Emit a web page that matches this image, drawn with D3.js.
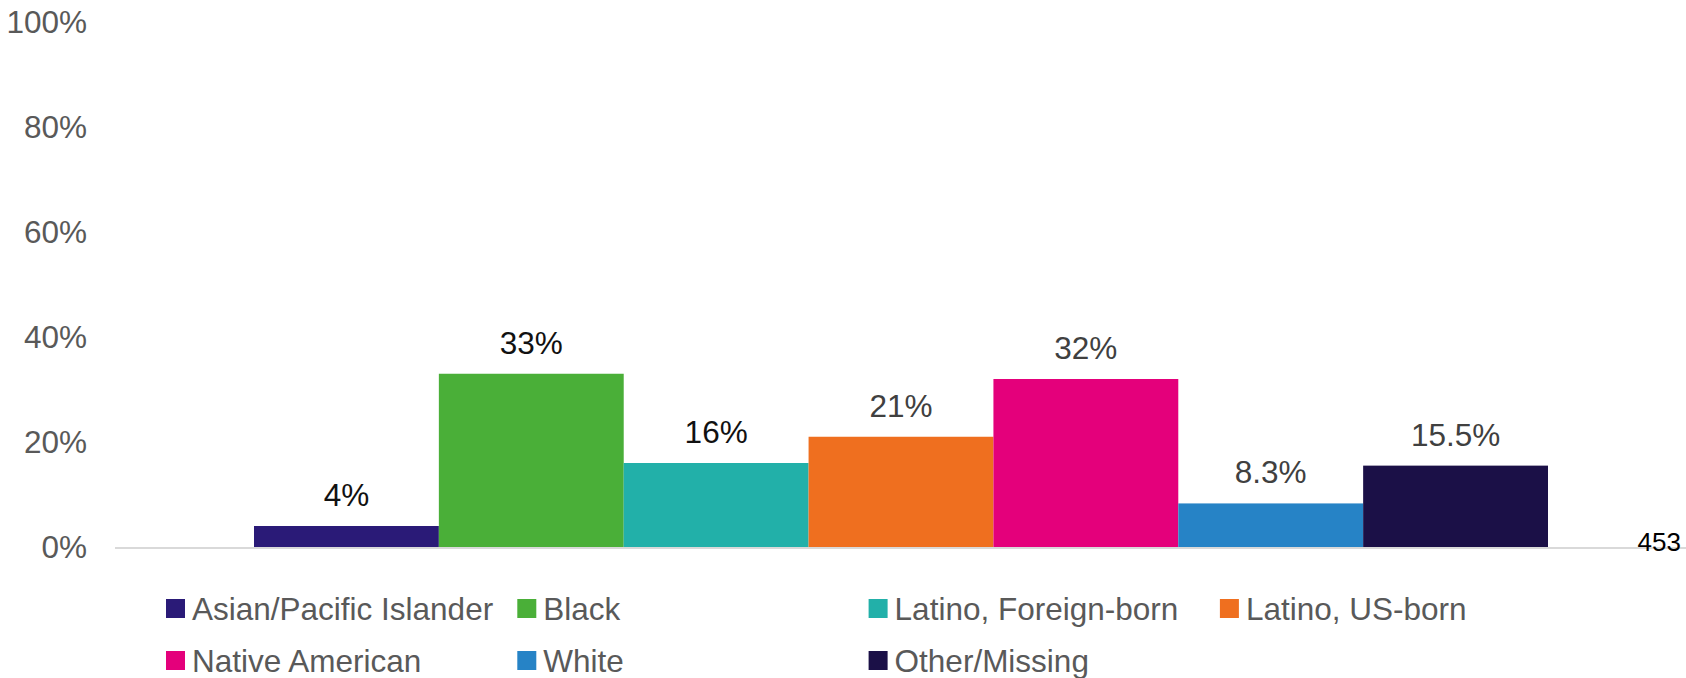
<!DOCTYPE html>
<html>
<head>
<meta charset="utf-8">
<script src="https://cdn.jsdelivr.net/npm/d3@7"></script>
<style>
  html, body { margin: 0; padding: 0; background: #fff; }
  svg { display: block; font-family: "Liberation Sans", Arial, sans-serif; }
</style>
</head>
<body>
<svg id="chart" width="1686" height="678"></svg>
<script>
// Share of cases by race/ethnicity
const categories = [
  "Asian/Pacific Islander",
  "Black",
  "Latino, Foreign-born",
  "Latino, US-born",
  "Native American",
  "White",
  "Other/Missing"
];
const values = [0.04, 0.33, 0.16, 0.21, 0.32, 0.083, 0.155];
const valueLabels = ["4%", "33%", "16%", "21%", "32%", "8.3%", "15.5%"];
const colors = ["#2a1a77", "#4aaf38", "#22b0a9", "#ef6f1f", "#e4007b", "#2683c6", "#1b1047"];
const labelColors = ["#111111", "#111111", "#111111", "#404040", "#404040", "#404040", "#404040"];
const yTicks = [0, 0.2, 0.4, 0.6, 0.8, 1.0];
const sampleSize = "453";

const svg = d3.select("#chart");

const x = d3.scaleBand()
  .domain(categories)
  .range([254, 1548])
  .paddingInner(0)
  .paddingOuter(0);

const y = d3.scaleLinear()
  .domain([0, 1])
  .range([547, 22]);

// Y axis: labels only, no line or ticks
const yAxis = d3.axisLeft(y)
  .tickValues(yTicks)
  .tickFormat(d3.format(".0%"))
  .tickSize(0)
  .tickPadding(0);

const yG = svg.append("g")
  .attr("transform", "translate(87,0)")
  .call(yAxis);
yG.select(".domain").remove();
yG.selectAll("text")
  .attr("fill", "#595959")
  .style("font-size", "31.5px")
  .style("font-family", "'Liberation Sans', Arial, sans-serif");

// Bars
svg.append("g")
  .selectAll("rect")
  .data(categories)
  .join("rect")
  .attr("x", d => x(d))
  .attr("width", x.bandwidth())
  .attr("y", (d, i) => y(values[i]))
  .attr("height", (d, i) => y(0) - y(values[i]))
  .attr("fill", (d, i) => colors[i]);

// Baseline
svg.append("line")
  .attr("x1", 115)
  .attr("x2", 1686)
  .attr("y1", y(0) + 1)
  .attr("y2", y(0) + 1)
  .attr("stroke", "#d9d9d9")
  .attr("stroke-width", 2);

// Value labels
svg.append("g")
  .selectAll("text")
  .data(categories)
  .join("text")
  .attr("x", d => x(d) + x.bandwidth() / 2)
  .attr("y", (d, i) => y(values[i]) - 20)
  .attr("text-anchor", "middle")
  .attr("fill", (d, i) => labelColors[i])
  .style("font-size", "31.5px")
  .text((d, i) => valueLabels[i]);

// Sample size note at the end of the baseline
svg.append("text")
  .attr("x", 1681)
  .attr("y", 551)
  .attr("text-anchor", "end")
  .attr("fill", "#000")
  .style("font-size", "26px")
  .text(sampleSize);

// Legend: 4 columns, 2 rows
const legendCols = 4;
const legendX0 = 166, legendColW = 351.3;
const legendY0 = 599, legendRowH = 52;
const sw = 19;

const legend = svg.append("g")
  .selectAll("g")
  .data(categories)
  .join("g")
  .attr("transform", (d, i) =>
    `translate(${legendX0 + (i % legendCols) * legendColW},${legendY0 + Math.floor(i / legendCols) * legendRowH})`);

legend.append("rect")
  .attr("width", sw)
  .attr("height", sw)
  .attr("fill", (d, i) => colors[i]);

legend.append("text")
  .attr("x", sw + 7)
  .attr("y", 21)
  .attr("fill", "#595959")
  .style("font-size", "31.5px")
  .text(d => d);
</script>
</body>
</html>
